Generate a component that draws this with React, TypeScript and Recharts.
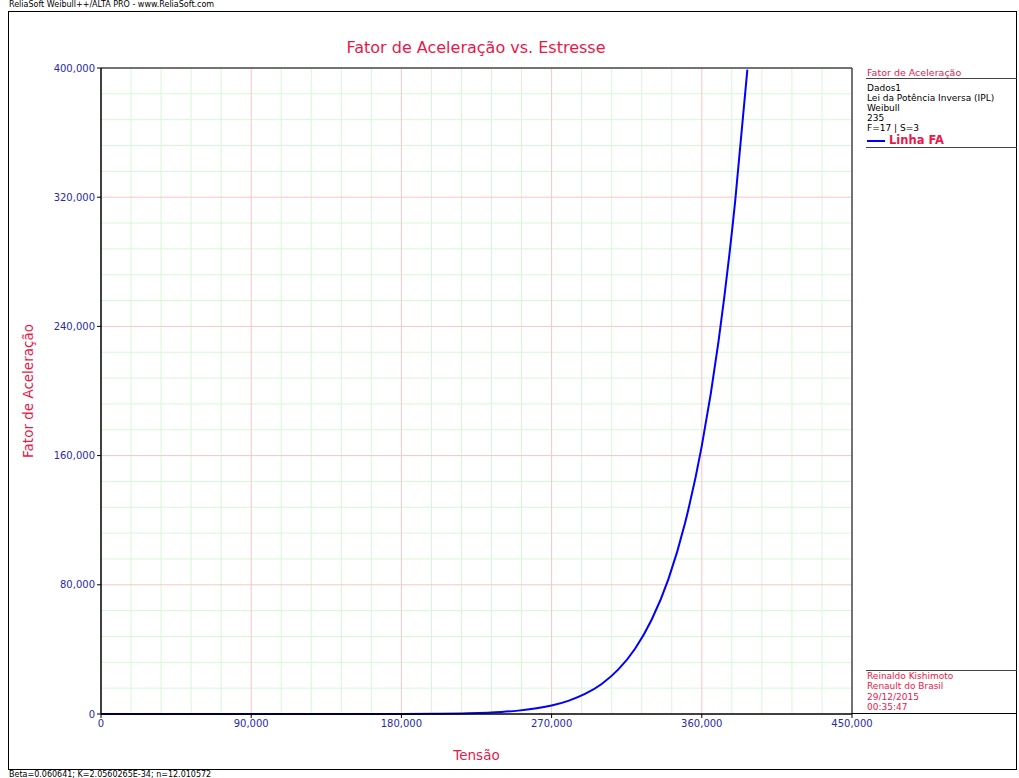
import React from 'react';
import { LineChart, Line, XAxis, YAxis, ReferenceLine } from 'recharts';

// valores (Tensão x Fator de Aceleração)
const tensao = [0, 90000, 180000, 200000, 220000, 240000, 250000, 260000, 270000, 280000, 290000, 300000, 310000, 320000, 330000, 340000, 350000, 360000, 370000, 380000, 387300];
const fatorAceleracao = [0, 0, 40, 144, 450, 1280, 2090, 3340, 5260, 8140, 12400, 18600, 27600, 40400, 58500, 83500, 118400, 166000, 230600, 317600, 399000];

const xTicks = [0, 90000, 180000, 270000, 360000, 450000];
const yTicks = [0, 80000, 160000, 240000, 320000, 400000];
const xMinor = [18000, 36000, 54000, 72000, 108000, 126000, 144000, 162000, 198000, 216000, 234000, 252000, 288000, 306000, 324000, 342000, 378000, 396000, 414000, 432000];
const yMinor = [16000, 32000, 48000, 64000, 96000, 112000, 128000, 144000, 176000, 192000, 208000, 224000, 256000, 272000, 288000, 304000, 336000, 352000, 368000, 384000];

const legendLines = ['Dados1', 'Lei da Potência Inversa (IPL)', 'Weibull', '235', 'F=17 | S=3'];
const infoLines = ['Reinaldo Kishimoto', 'Renault do Brasil', '29/12/2015', '00:35:47'];

const data = tensao.map((t, i) => ({ tensao: t, fa: fatorAceleracao[i] }));

const FONT = '"DejaVu Sans", Verdana, sans-serif';
const RED = '#e8184a';
const NAVY = '#2b2b9e';
const fmt = (v: number) => v.toLocaleString('en-US');

const abs = (x: number, y: number, extra: React.CSSProperties = {}): React.CSSProperties => ({
  position: 'absolute',
  left: x,
  top: y,
  whiteSpace: 'nowrap',
  fontFamily: FONT,
  ...extra,
});

export default function App() {
  return (
    <div style={{ position: 'absolute', left: 0, top: 0, width: 1019, height: 778, background: '#fff', overflow: 'hidden' }}>
      {/* cabeçalho e moldura */}
      <div style={abs(9, 0, { fontSize: 8, color: '#000', lineHeight: '10px' })}>ReliaSoft Weibull++/ALTA PRO - www.ReliaSoft.com</div>
      <div style={abs(8, 11, { width: 1009, height: 759, border: '1px solid #000', boxSizing: 'border-box' })} />
      <div style={abs(9, 770, { fontSize: 8, color: '#000', lineHeight: '10px' })}>Beta=0.060641; K=2.0560265E-34; n=12.010572</div>

      <div style={abs(0, 38, { width: 952, textAlign: 'center', fontSize: 16, color: RED, lineHeight: '20px' })}>
        Fator de Aceleração vs. Estresse
      </div>
      <div style={abs(101, 746, { width: 751, textAlign: 'center', fontSize: 13.5, color: RED, lineHeight: '18px' })}>Tensão</div>
      <div style={abs(28, 391, { fontSize: 13.5, color: RED, lineHeight: '18px', transform: 'translate(-50%, -50%) rotate(-90deg)' })}>
        Fator de Aceleração
      </div>

      <LineChart
        width={1019}
        height={778}
        data={data}
        margin={{ top: 68, left: 41, right: 167, bottom: 34 }}
        style={{ position: 'absolute', left: 0, top: 0 }}
      >
        {xMinor.map((v) => (
          <ReferenceLine key={'xm' + v} x={v} stroke="#d6f7d6" strokeWidth={1} />
        ))}
        {yMinor.map((v) => (
          <ReferenceLine key={'ym' + v} y={v} stroke="#d6f7d6" strokeWidth={1} />
        ))}
        {xTicks.slice(1, -1).map((v) => (
          <ReferenceLine key={'xM' + v} x={v} stroke="#f8c6c6" strokeWidth={1} />
        ))}
        {yTicks.slice(1, -1).map((v) => (
          <ReferenceLine key={'yM' + v} y={v} stroke="#f8c6c6" strokeWidth={1} />
        ))}
        <ReferenceLine x={450000} stroke="#444" strokeWidth={1.5} />
        <ReferenceLine y={400000} stroke="#444" strokeWidth={1.5} />
        <XAxis
          type="number"
          dataKey="tensao"
          domain={[0, 450000]}
          ticks={xTicks}
          tickFormatter={fmt}
          height={30}
          axisLine={{ stroke: '#000', strokeWidth: 1.5 }}
          tickLine={{ stroke: '#000' }}
          tickSize={4}
          tick={{ fill: NAVY, fontSize: 10, fontFamily: FONT }}
        />
        <YAxis
          type="number"
          domain={[0, 400000]}
          ticks={yTicks}
          tickFormatter={fmt}
          width={60}
          axisLine={{ stroke: '#000', strokeWidth: 1.5 }}
          tickLine={{ stroke: '#000' }}
          tickSize={4}
          tick={{ fill: NAVY, fontSize: 10, fontFamily: FONT }}
        />
        <Line
          type="monotone"
          dataKey="fa"
          stroke="#0000ff"
          strokeWidth={2}
          dot={false}
          isAnimationActive={false}
        />
      </LineChart>

      {/* legenda */}
      <div style={abs(867, 67, { fontSize: 9.5, color: RED, lineHeight: '12px' })}>Fator de Aceleração</div>
      <div style={abs(866, 78, { width: 151, height: 0, borderTop: '1px solid #444' })} />
      {legendLines.map((t, i) => (
        <div key={t} style={abs(867, 83 + i * 10, { fontSize: 9, color: '#000', lineHeight: '11px' })}>{t}</div>
      ))}
      <div style={abs(867, 140, { width: 18, height: 0, borderTop: '2px solid #0000ff' })} />
      <div style={abs(889, 133, { fontSize: 11.5, fontWeight: 'bold', color: RED, lineHeight: '14px' })}>Linha FA</div>
      <div style={abs(866, 147, { width: 151, height: 0, borderTop: '1px solid #444' })} />

      {/* informações */}
      <div style={abs(866, 670, { width: 151, height: 0, borderTop: '1px solid #444' })} />
      {infoLines.map((t, i) => (
        <div key={t} style={abs(867, 671 + i * 10.3, { fontSize: 9, color: RED, lineHeight: '11px' })}>{t}</div>
      ))}
      <div style={abs(852, 713, { width: 165, height: 0, borderTop: '1px solid #000' })} />
    </div>
  );
}
